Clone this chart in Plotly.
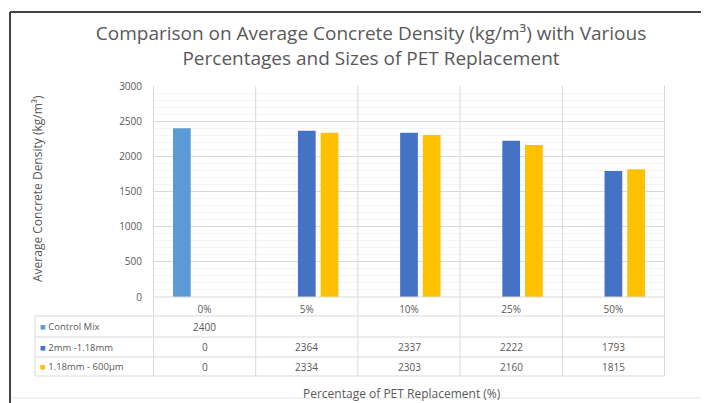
import plotly.graph_objects as go

categories = ["0%", "5%", "10%", "25%", "50%"]
series_names = ["Control Mix", "2mm -1.18mm", "1.18mm - 600μm"]
control_mix = [2400, None, None, None, None]
mm2_118 = [0, 2364, 2337, 2222, 1793]
mm118_600 = [0, 2334, 2303, 2160, 1815]
colors = ["#5B9BD5", "#4472C4", "#FFC000"]
y_ticks = [0, 500, 1000, 1500, 2000, 2500, 3000]

series_values = [control_mix, mm2_118, mm118_600]

# the page body adds an 8px margin; coordinates below are screenshot pixels
OFF = 8
W, H = 709 - OFF, 403 - OFF
PLOT_L, PLOT_R, PLOT_T, PLOT_B = 153, 665, 86, 297
L = PLOT_L - OFF
T = PLOT_T - OFF
R = W - (PLOT_R - OFF)
B = H - (PLOT_B - OFF)
PW, PH = PLOT_R - PLOT_L, PLOT_B - PLOT_T


def px_x(px):
    return (px - PLOT_L) / PW


def px_y(py):
    return (PLOT_B - py) / PH


fig = go.Figure()
for name, vals, col in zip(series_names, series_values, colors):
    fig.add_trace(go.Bar(x=categories, y=vals, name=name, marker=dict(color=col, line=dict(width=0))))

grey = "#595959"
line_col = "#d9d9d9"
font_fam = "Open Sans, Liberation Sans, sans-serif"

fig.update_layout(
    width=W, height=H,
    margin=dict(l=L, r=R, t=T, b=B),
    paper_bgcolor="white", plot_bgcolor="white",
    barmode="group", bargap=0.333, bargroupgap=0.22,
    showlegend=False,
    font=dict(family=font_fam, color=grey, size=9),
    title=dict(
        text="Comparison on Average Concrete Density (kg/m³) with Various<br>Percentages and Sizes of PET Replacement",
        x=(371 - OFF) / W, xanchor="center", y=1 - (40 - OFF) / H, yanchor="middle",
        font=dict(size=19, color=grey, family=font_fam),
    ),
    xaxis=dict(
        showgrid=False, zeroline=False, showline=False,
        ticks="outside", ticklen=3, tickcolor="rgba(0,0,0,0)",
        tickfont=dict(size=10, color=grey),
    ),
    yaxis=dict(
        range=[0, 3000], tickvals=y_ticks, showline=False, zeroline=False,
        gridcolor=line_col, gridwidth=1,
        minor=dict(dtick=100, showgrid=True, gridcolor="#f4f4f4", gridwidth=1),
        ticks="outside", ticklen=8, tickcolor="rgba(0,0,0,0)",
        tickfont=dict(size=10, color=grey),
    ),
)

shapes = []
y_axis_line = px_y(297)
row_lines = [316, 337, 357, 376]
shapes.append(dict(type="line", xref="paper", yref="paper", x0=0, x1=1, y0=y_axis_line, y1=y_axis_line,
                   line=dict(color=line_col, width=1)))
for ry in row_lines:
    shapes.append(dict(type="line", xref="paper", yref="paper", x0=px_x(35), x1=1, y0=px_y(ry), y1=px_y(ry),
                       line=dict(color=line_col, width=1)))
for k in range(len(categories) + 1):
    shapes.append(dict(type="line", xref="x", yref="paper", x0=k - 0.5, x1=k - 0.5, y0=1, y1=px_y(376),
                       line=dict(color=line_col, width=1)))
shapes.append(dict(type="line", xref="paper", yref="paper", x0=px_x(35), x1=px_x(35), y0=px_y(316), y1=px_y(376),
                   line=dict(color=line_col, width=1)))
# outer frame
shapes.append(dict(type="line", xref="paper", yref="paper", x0=px_x(10), x1=px_x(712), y0=px_y(12), y1=px_y(12),
                   line=dict(color="#444444", width=2)))
shapes.append(dict(type="line", xref="paper", yref="paper", x0=px_x(10), x1=px_x(10), y0=px_y(12), y1=px_y(405),
                   line=dict(color="#444444", width=2)))
shapes.append(dict(type="line", xref="paper", yref="paper", x0=px_x(11), x1=px_x(705), y0=px_y(398), y1=px_y(398),
                   line=dict(color="#e6e6e6", width=1)))
shapes.append(dict(type="line", xref="paper", yref="paper", x0=px_x(705), x1=px_x(705), y0=px_y(13), y1=px_y(398),
                   line=dict(color="#e6e6e6", width=1)))
fig.update_layout(shapes=shapes)

annotations = []
row_centers = [326.5, 347, 366.5]
for name, vals, col, ry in zip(series_names, series_values, colors, row_centers):
    annotations.append(dict(
        xref="paper", yref="paper", x=px_x(38), y=px_y(ry), xanchor="left", yanchor="middle",
        text=f"<span style='color:{col}'>■</span> {name}", showarrow=False,
        font=dict(size=9.5, color=grey),
    ))
    for cat, v in zip(categories, vals):
        if v is None:
            continue
        annotations.append(dict(
            xref="x", yref="paper", x=cat, y=px_y(ry), xanchor="center", yanchor="middle",
            text=str(v), showarrow=False, font=dict(size=10, color=grey),
        ))
annotations.append(dict(
    xref="paper", yref="paper", x=px_x(37), y=px_y(189), xanchor="center", yanchor="middle",
    text="Average Concrete Density (kg/m³)", textangle=-90, showarrow=False,
    font=dict(size=12, color=grey),
))
annotations.append(dict(
    xref="paper", yref="paper", x=px_x(402), y=px_y(393), xanchor="center", yanchor="middle",
    text="Percentage of PET Replacement (%)", showarrow=False,
    font=dict(size=12, color=grey),
))
fig.update_layout(annotations=annotations)

fig.write_html("out.html")
